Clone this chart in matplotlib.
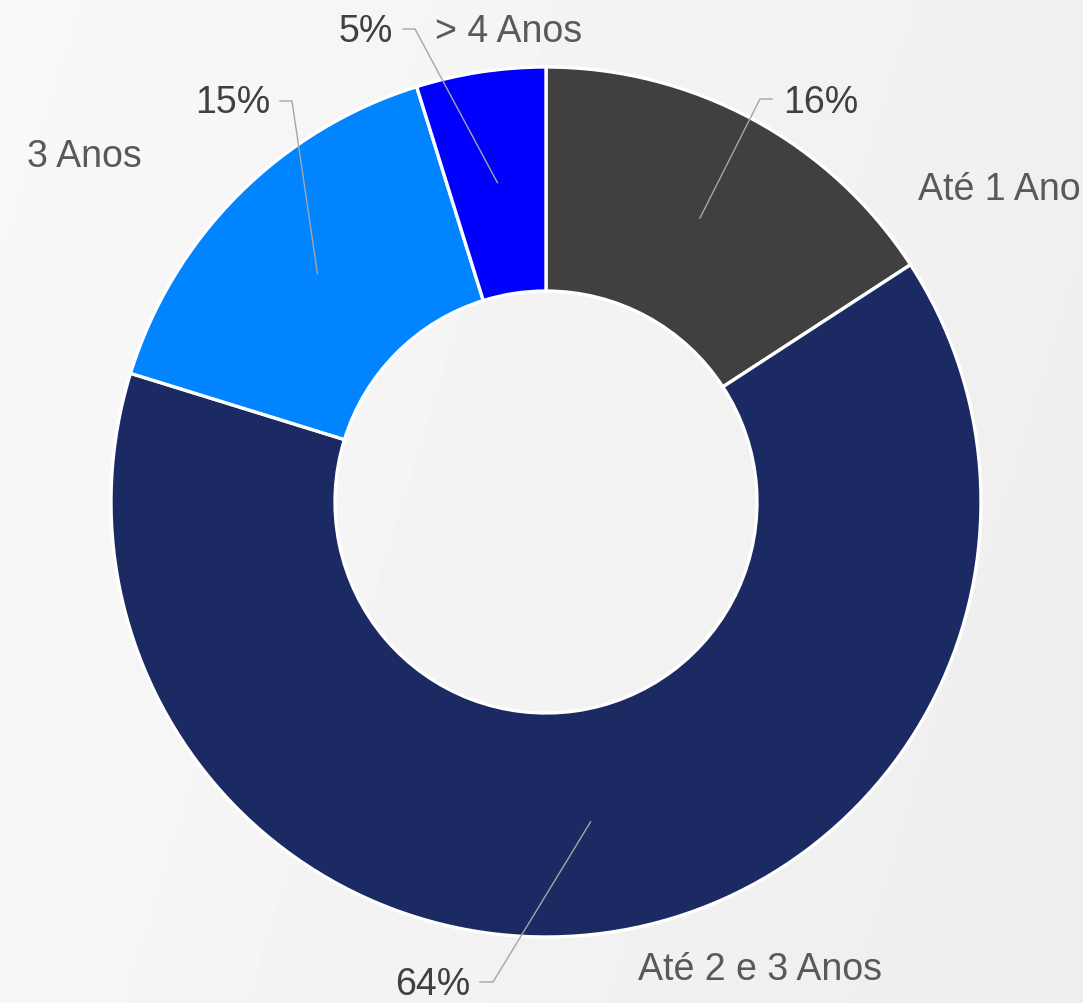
import numpy as np
import matplotlib
matplotlib.use("Agg")
from matplotlib import pyplot as plt

# Data (slice sizes; labels as printed)
categories = ["Até 1 Ano", "Até 2 e 3 Anos", "3 Anos", "> 4 Anos"]
shares = [15.8, 63.9, 15.4, 4.8]
pct_labels = ["16%", "64%", "15%", "5%"]
colors = ["#404040", "#1b2a63", "#0084ff", "#0000ff"]

W, H = 1083, 1004
dpi = 100
fig = plt.figure(figsize=(W / dpi, H / dpi), dpi=dpi)
ax = fig.add_axes([0, 0, 1, 1])

# soft light-gray backdrop
gx = np.linspace(0, 1, 200)
gy = np.linspace(0, 1, 200)
bg = 0.975 - 0.035 * np.outer(np.ones_like(gy), gx) - 0.01 * np.outer(gy, np.ones_like(gx))
ax.imshow(bg, extent=(0, W, 0, H), cmap="gray", vmin=0, vmax=1, aspect="auto", zorder=0)

cx, cy = 546, 501
r_out = 435
ring = 0.515

wedges, _ = ax.pie(
    shares,
    colors=colors,
    startangle=90,
    counterclock=False,
    center=(cx, cy),
    radius=r_out,
    wedgeprops=dict(width=ring * r_out, edgecolor="white", linewidth=2.4),
    frame=True,
)
ax.set_xlim(0, W)
ax.set_ylim(0, H)
ax.axis("off")

# label layout (pixel coords, y from top): elbow, tip, pct text, name text
layout = [
    dict(elbow=(760, 100), tip=(772, 100), pct=(783, 103, "left"), name=(918, 190, "left")),
    dict(elbow=(493, 983), tip=(480, 983), pct=(470, 985, "right"), name=(638, 970, "left")),
    dict(elbow=(292, 102), tip=(280, 102), pct=(270, 103, "right"), name=(27, 157, "left")),
    dict(elbow=(415, 30), tip=(403, 30), pct=(393, 32, "right"), name=(435, 32, "left")),
]

r_mid = r_out * (1 - ring / 2)
for w, pct, name, lay in zip(wedges, pct_labels, categories, layout):
    ang = np.deg2rad((w.theta1 + w.theta2) / 2)
    ax_, ay_ = cx + r_mid * np.cos(ang), cy + r_mid * np.sin(ang)
    ex, ey = lay["elbow"][0], H - lay["elbow"][1]
    tx, ty = lay["tip"][0], H - lay["tip"][1]
    ax.plot([ax_, ex, tx], [ay_, ey, ty], color="#a6a6a6", lw=1.0, zorder=5)
    px, py, ha = lay["pct"]
    ax.text(px, H - py, pct, ha=ha, va="center", fontsize=27,
            family="Liberation Sans", color="#404040")
    nx, ny, nha = lay["name"]
    ax.text(nx, H - ny, name, ha=nha, va="center", fontsize=27,
            family="Liberation Sans", color="#595959")

fig.savefig("out.png", dpi=dpi)
